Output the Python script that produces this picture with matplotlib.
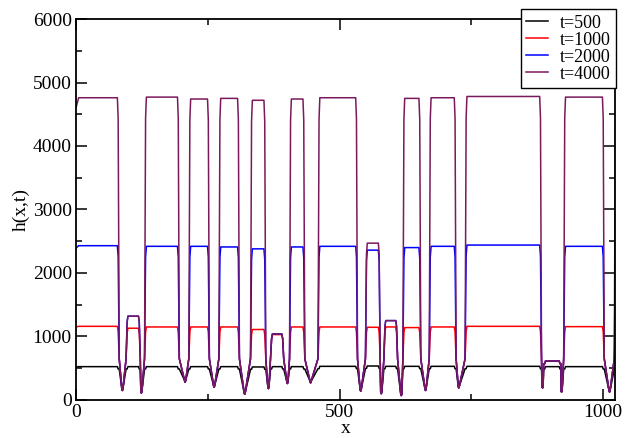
import matplotlib
matplotlib.use("Agg")
from matplotlib import pyplot as plt
from matplotlib.ticker import MultipleLocator

plt.rcParams['font.family'] = ['Liberation Serif', 'DejaVu Serif']

# Dips (walls): plateau end, bottom, next plateau start, bottom height
dip_left = [80, 120, 194, 251, 308, 358, 392, 432, 532, 575, 608, 652, 719, 881, 918, 1000]
dip_mid = [88, 124, 207, 262, 320, 365, 401, 445, 540, 579, 617, 663, 726, 885, 921, 1012]
dip_right = [97, 132, 216, 273, 333, 371, 407, 461, 551, 586, 622, 672, 740, 889, 927, 1023]
dip_min = [150, 110, 280, 200, 90, 180, 260, 270, 140, 100, 70, 150, 190, 190, 125, 125]

# Plateau heights between dips (segment 0 is before the first dip)
h_t500 = [525, 525, 525, 525, 525, 520, 525, 525, 530, 535, 530, 530, 530, 530, 525, 525]
h_t1000 = [1160, 1130, 1150, 1150, 1150, 1110, 1030, 1150, 1150, 1145, 1150, 1140, 1150, 1160, 610, 1155]
h_t2000 = [2430, 1320, 2420, 2420, 2410, 2380, 1040, 2410, 2420, 2360, 1250, 2400, 2420, 2440, 615, 2420]
h_t4000 = [4760, 1320, 4770, 4740, 4750, 4720, 1040, 4740, 4760, 2470, 1250, 4750, 4760, 4780, 615, 4770]

# values at x=0 and at the right edge
start_vals = {'t=500': 520, 't=1000': 1150, 't=2000': 2390, 't=4000': 4600}
end_vals = {'t=500': 520, 't=1000': 1150, 't=2000': 2400, 't=4000': 4600}

labels = ['t=500', 't=1000', 't=2000', 't=4000']
colors = ['black', '#ff0000', '#0000ff', '#7a1a5c']


def profile(levels, start, end):
    """Piecewise profile through the plateau and dip knots."""
    xs = [0, 5]
    ys = [start, levels[0]]
    for i in range(len(dip_mid)):
        nxt = levels[i + 1] if i + 1 < len(levels) else end
        a, c, b, m = dip_left[i], dip_mid[i], dip_right[i], dip_min[i]
        wl = min(0.93 * levels[i], 650)
        wr = min(0.93 * nxt, 650)
        # rounded shoulders, steep walls, V-shaped bottom
        xs += [a - 1.5, a, a + 2, c - 1, c, c + 1, b - 2, b, b + 1.5]
        ys += [levels[i], 0.93 * levels[i], wl, m + 25, m, m + 25, wr, 0.93 * nxt, nxt]
    xs.append(1026)
    ys.append(end)
    return xs, ys


fig = plt.figure(figsize=(6.28, 4.38), dpi=100)
ax = fig.add_axes([0.121, 0.0868, 0.858, 0.8698])

for lab, col, lev in zip(labels, colors, [h_t500, h_t1000, h_t2000, h_t4000]):
    x, y = profile(lev, start_vals[lab], end_vals[lab])
    ax.plot(x, y, color=col, lw=1.1, label=lab, solid_joinstyle='round')

ax.set_xlim(0, 1022)
ax.set_ylim(0, 6000)
ax.xaxis.set_major_locator(MultipleLocator(500))
ax.xaxis.set_minor_locator(MultipleLocator(250))
ax.yaxis.set_major_locator(MultipleLocator(1000))
ax.yaxis.set_minor_locator(MultipleLocator(500))
ax.tick_params(which='both', direction='in', top=True, right=True, labelsize=14, width=1.1)
ax.tick_params(which='major', length=8, pad=3)
ax.tick_params(which='minor', length=4)
for s in ax.spines.values():
    s.set_linewidth(1.3)

ax.set_xlabel('x', fontsize=14, va='bottom')
ax.xaxis.set_label_coords(0.5, -0.097)
ax.set_ylabel('h(x,t)', fontsize=14, labelpad=2)

leg = ax.legend(loc='upper right', bbox_to_anchor=(0.981, 0.979), bbox_transform=fig.transFigure,
                fontsize=13, handlelength=1.2, handletextpad=0.65, labelspacing=0.0,
                borderpad=0.3, borderaxespad=0, fancybox=False, framealpha=1)
leg.get_frame().set_edgecolor('black')
leg.get_frame().set_linewidth(1.0)

fig.savefig('out.png', dpi=100)
